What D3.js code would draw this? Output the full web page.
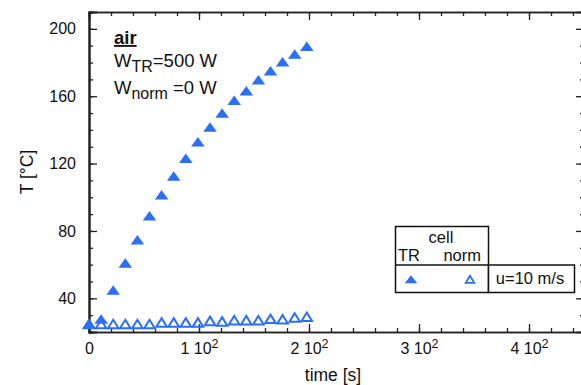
<!DOCTYPE html>
<html>
<head>
<meta charset="utf-8">
<script src="https://cdn.jsdelivr.net/npm/d3@7"></script>
<style>
  html, body { margin: 0; padding: 0; background: #fff; }
  svg { display: block; font-family: "Liberation Sans", Arial, Helvetica, sans-serif; }
</style>
</head>
<body>
<svg id="chart" width="581" height="385"></svg>
<script>
// ---- data ----
const times    = [0, 11, 22, 33, 44, 55, 66, 77, 88, 99, 110, 121, 132, 143, 154, 165, 176, 187, 198];
const tempTR   = [24.2, 27.1, 44.3, 60.4, 74.2, 88.5, 100.9, 112.0, 122.6, 132.4, 141.1, 149.5, 157.0, 162.7, 169.2, 174.6, 179.9, 184.5, 189.1];
const tempNorm = [24.2, 24.2, 24.2, 24.2, 24.2, 24.2, 25.2, 25.2, 25.2, 25.2, 26.1, 25.8, 26.5, 26.5, 26.5, 27.3, 27.1, 28.1, 28.5];
const xMajorTicks = [0, 100, 200, 300, 400];
const xTickLabels = [["0", ""], ["1 10", "2"], ["2 10", "2"], ["3 10", "2"], ["4 10", "2"]];
const yMajorTicks = [40, 80, 120, 160, 200];
const yTickLabels = ["40", "80", "120", "160", "200"];
const seriesNames = ["TR", "norm"];

const blue = "#2a6ff5";
const axisColor = "#222";

const svg = d3.select("#chart");
const x = d3.scaleLinear().domain([0, 450]).range([89, 584]);
const y = d3.scaleLinear().domain([20, 210]).range([332, 12]);

const xMinor = d3.range(0, 460, 20);
const yMinor = d3.range(20, 211, 10);

function styleAxis(g, width) {
  g.select(".domain").attr("stroke", axisColor).attr("stroke-width", width);
  g.selectAll(".tick line").attr("stroke", axisColor).attr("stroke-width", 1.3);
}
// bottom
const gb = svg.append("g").attr("transform", `translate(0,${y(20)})`);
gb.call(d3.axisBottom(x).tickValues(xMinor).tickSize(-4).tickFormat(""));
styleAxis(gb, 1.6);
const gbM = svg.append("g").attr("transform", `translate(0,${y(20)})`);
gbM.call(d3.axisBottom(x).tickValues(xMajorTicks).tickSize(-8).tickFormat(""));
styleAxis(gbM, 1.6);
gbM.selectAll(".tick text").remove();
gbM.selectAll(".tick").each(function(d, i) {
  const lab = xTickLabels[i];
  const t = d3.select(this).append("text")
    .attr("y", 22).attr("fill", "#111").attr("font-size", 16)
    .attr("text-anchor", "middle");
  t.append("tspan").text(lab[0]);
  if (lab[1]) t.append("tspan").attr("dy", -6).attr("font-size", 12.5).text(lab[1]);
});
// top
const gt = svg.append("g").attr("transform", `translate(0,${y(210)})`);
gt.call(d3.axisTop(x).tickValues(xMinor).tickSize(-4).tickFormat(""));
styleAxis(gt, 1.6);
const gtM = svg.append("g").attr("transform", `translate(0,${y(210)})`);
gtM.call(d3.axisTop(x).tickValues(xMajorTicks).tickSize(-8).tickFormat(""));
styleAxis(gtM, 1.6);
// left
const gl = svg.append("g").attr("transform", `translate(${x(0)},0)`);
gl.call(d3.axisLeft(y).tickValues(yMinor).tickSize(-4).tickFormat(""));
styleAxis(gl, 2);
const glM = svg.append("g").attr("transform", `translate(${x(0)},0)`);
glM.call(d3.axisLeft(y).tickValues(yMajorTicks).tickSize(-8).tickPadding(13)
  .tickFormat((d, i) => yTickLabels[i]));
styleAxis(glM, 2);
glM.selectAll(".tick text").attr("font-size", 16).attr("fill", "#111")
  .attr("font-family", "'Liberation Sans', Arial, sans-serif");
// right
const gr = svg.append("g").attr("transform", `translate(${x(450)},0)`);
gr.call(d3.axisRight(y).tickValues(yMinor).tickSize(-4).tickFormat(""));
styleAxis(gr, 1.6);
const grM = svg.append("g").attr("transform", `translate(${x(450)},0)`);
grM.call(d3.axisRight(y).tickValues(yMajorTicks).tickSize(-8).tickFormat(""));
styleAxis(grM, 1.6);

// axis titles
svg.append("text").attr("x", 333).attr("y", 381).attr("text-anchor", "middle")
  .attr("font-size", 17.5).attr("fill", "#111").text("time [s]");
svg.append("text").attr("transform", "translate(33,172) rotate(-90)")
  .attr("text-anchor", "middle").attr("font-size", 17.5).attr("fill", "#111").text("T [°C]");

function triSymbol(w, h) {
  return { draw(ctx) {
    ctx.moveTo(0, -h * 0.6);
    ctx.lineTo(w / 2, h * 0.4);
    ctx.lineTo(-w / 2, h * 0.4);
    ctx.closePath();
  }};
}
const filledTri = d3.symbol().type(triSymbol(13.5, 9.5));
const openTri = d3.symbol().type(triSymbol(10.5, 8.5));

const pts = times.map((t, i) => ({ t, tr: tempTR[i], nm: tempNorm[i] }));

svg.append("g").selectAll("path").data(pts).join("path")
  .attr("transform", d => `translate(${x(d.t)},${y(d.nm)})`)
  .attr("d", openTri()).attr("fill", "none").attr("stroke", blue)
  .attr("stroke-width", 2).attr("stroke-linejoin", "miter");
svg.append("g").selectAll("path").data(pts).join("path")
  .attr("transform", d => `translate(${x(d.t)},${y(d.tr)})`)
  .attr("d", filledTri()).attr("fill", blue);

// annotation
const ann = svg.append("g").attr("fill", "#111");
ann.append("text").attr("x", 114).attr("y", 44).attr("font-size", 18.5)
  .attr("font-weight", "bold").attr("text-decoration", "underline").text("air");
const a2 = ann.append("text").attr("x", 114).attr("y", 67).attr("font-size", 18.5);
a2.append("tspan").text("W");
a2.append("tspan").attr("dy", 5).attr("font-size", 16).text("TR");
a2.append("tspan").attr("dy", -5).text("=500 W");
const a3 = ann.append("text").attr("x", 114).attr("y", 94).attr("font-size", 18.5);
a3.append("tspan").text("W");
a3.append("tspan").attr("dy", 5).attr("font-size", 16).text("norm");
a3.append("tspan").attr("dy", -5).text(" =0 W");

// legend table
const lg = svg.append("g");
const lx0 = 395.5, lx1 = 488.5, lx2 = 574.5, ly0 = 226.5, ly1 = 265, ly2 = 292.5;
lg.append("rect").attr("x", lx0).attr("y", ly0).attr("width", lx1 - lx0).attr("height", ly2 - ly0)
  .attr("fill", "#fff").attr("stroke", "#111").attr("stroke-width", 1.5);
lg.append("rect").attr("x", lx1).attr("y", ly1).attr("width", lx2 - lx1).attr("height", ly2 - ly1)
  .attr("fill", "#fff").attr("stroke", "#111").attr("stroke-width", 1.5);
lg.append("line").attr("x1", lx0).attr("x2", lx1).attr("y1", ly1).attr("y2", ly1)
  .attr("stroke", "#111").attr("stroke-width", 1.5);
lg.append("text").attr("x", 441).attr("y", 243).attr("text-anchor", "middle")
  .attr("font-size", 16.5).attr("fill", "#111").text("cell");
lg.append("text").attr("x", 398).attr("y", 261).attr("font-size", 16.5).attr("fill", "#111").text(seriesNames[0]);
lg.append("text").attr("x", 481).attr("y", 261).attr("text-anchor", "end")
  .attr("font-size", 16.5).attr("fill", "#111").text(seriesNames[1]);
lg.append("path").attr("transform", "translate(411,280)")
  .attr("d", d3.symbol().type(triSymbol(12.5, 8))()).attr("fill", blue);
lg.append("path").attr("transform", "translate(470,280)")
  .attr("d", d3.symbol().type(triSymbol(8.5, 7))()).attr("fill", "none")
  .attr("stroke", blue).attr("stroke-width", 1.8);
lg.append("text").attr("x", 530).attr("y", 284).attr("text-anchor", "middle")
  .attr("font-size", 16.5).attr("fill", "#111").text("u=10 m/s");
</script>
</body>
</html>
